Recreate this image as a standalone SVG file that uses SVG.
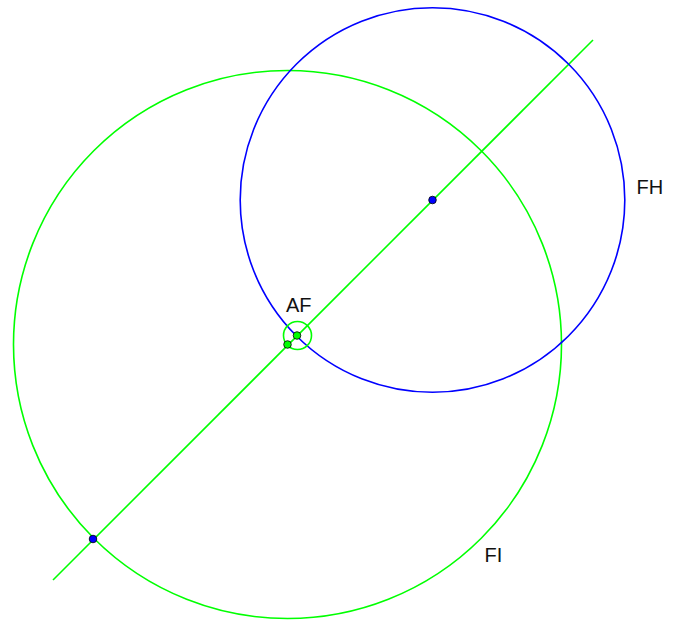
<svg xmlns="http://www.w3.org/2000/svg" width="676" height="622" viewBox="0 0 676 622">
<style>
.g{fill:none;stroke:#00ff00;stroke-width:1.6}
.b{fill:none;stroke:#0000ff;stroke-width:1.6}
.pb{fill:#0000ff;stroke:#000;stroke-width:0.8}
.pg{fill:#00ff00;stroke:#000;stroke-width:0.8}
text{font-family:"Liberation Sans",Arial,sans-serif;font-size:20px;fill:#111}
</style>
<rect width="676" height="622" fill="#fff"/>
<g id="connectors">
<line class="g" x1="53" y1="580" x2="593" y2="40"/>
</g>
<g id="FI">
<circle class="g" cx="287.5" cy="344.5" r="274"/>
<text x="484.5" y="561.5">FI</text>
</g>
<g id="FH">
<circle class="b" cx="432.5" cy="200" r="192.3"/>
<text x="636.5" y="193.5">FH</text>
</g>
<g id="AF">
<circle class="g" cx="297.5" cy="335.5" r="14"/>
<text x="286" y="311.5">AF</text>
</g>
<g id="points">
<circle class="pb" cx="432.5" cy="200" r="3.8"/>
<circle class="pb" cx="93" cy="539" r="3.8"/>
<circle class="pg" cx="297" cy="335.5" r="3.8"/>
<circle class="pg" cx="287.5" cy="344.5" r="3.8"/>
</g>
</svg>
